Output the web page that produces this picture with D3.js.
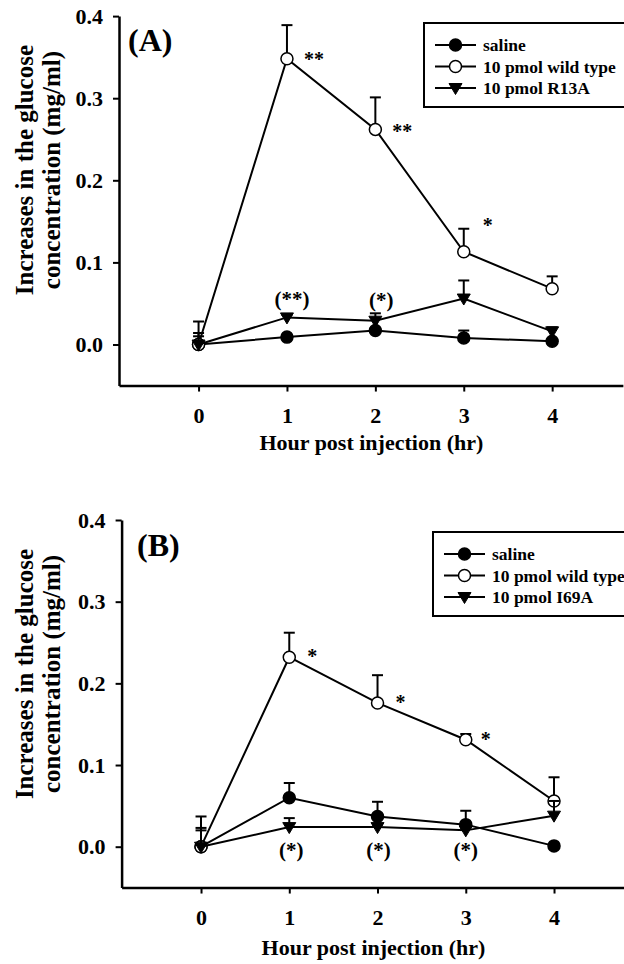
<!DOCTYPE html>
<html><head><meta charset="utf-8">
<script src="https://cdn.jsdelivr.net/npm/d3@7"></script>
<style>
html,body{margin:0;padding:0;background:#fff;}
svg{display:block;}
text{font-family:"Liberation Serif","Times New Roman",serif;font-weight:bold;fill:#000;}
</style></head>
<body>
<svg id="chart" width="624" height="964"></svg>
<script>
// ---------- data ----------
const hours = [0, 1, 2, 3, 4];
const xTicks = [0, 1, 2, 3, 4];
const yTicks = [0.0, 0.1, 0.2, 0.3, 0.4];

// Panel A
const salineA     = [0, 0.009, 0.017, 0.008, 0.004];
const salineAErr  = [0.010, 0.002, 0.003, 0.009, 0.003];
const wildA       = [0, 0.348, 0.262, 0.113, 0.068];
const wildAErr    = [0.028, 0.041, 0.039, 0.028, 0.015];
const r13A        = [0, 0.033, 0.029, 0.056, 0.016];
const r13AErr     = [0.014, 0.003, 0.009, 0.022, 0.005];
const legendA     = ["saline", "10 pmol wild type", "10 pmol R13A"];

// Panel B
const salineB     = [0, 0.060, 0.037, 0.027, 0.001];
const salineBErr  = [0.020, 0.018, 0.018, 0.017, 0.002];
const wildB       = [0, 0.232, 0.176, 0.131, 0.056];
const wildBErr    = [0.037, 0.030, 0.034, 0.007, 0.029];
const i69B        = [0, 0.024, 0.024, 0.020, 0.038];
const i69BErr     = [0.023, 0.011, 0.003, 0.003, 0.018];
const legendB     = ["saline", "10 pmol wild type", "10 pmol I69A"];

// significance marks: [hour, value it refers to, label]
const sigA = [[1, 0.348, "**"], [2, 0.262, "**"], [3, 0.113, "*"]];
const sigAParen = [[1, 0.033, "(**)"], [2, 0.029, "(*)"]];
const sigB = [[1, 0.232, "*"], [2, 0.176, "*"], [3, 0.131, "*"]];
const sigBParen = [[1, 0.024, "(*)"], [2, 0.024, "(*)"], [3, 0.020, "(*)"]];

const yTitle = ["Increases in the glucose", "concentration (mg/ml)"];
const xTitle = "Hour post injection (hr)";

// ---------- drawing ----------
const svg = d3.select("#chart");

function trianglePath(){ return "M-6.5,-4.5L6.5,-4.5L0,6.5Z"; }

function panel(cfg){
  const g = svg.append("g");
  const x = d3.scaleLinear().domain([-0.9, 4.8]).range([cfg.x0, cfg.x0 + 5.7 * cfg.xu]);
  const y = d3.scaleLinear().domain([-0.05, 0.4]).range([cfg.yZero + 0.05 * cfg.yu, cfg.yZero - 0.4 * cfg.yu]);

  // axes
  const ya = g.append("g").attr("transform", `translate(${cfg.x0},0)`)
    .call(d3.axisLeft(y).tickValues(yTicks).tickFormat(d3.format(".1f")).tickSize(6).tickSizeOuter(0).tickPadding(10));
  const xa = g.append("g").attr("transform", `translate(0,${y(-0.05)})`)
    .call(d3.axisBottom(x).tickValues(xTicks).tickFormat(d3.format("d")).tickSize(6).tickSizeOuter(0).tickPadding(16));
  [ya, xa].forEach(a => {
    a.select(".domain").attr("stroke", "#000").attr("stroke-width", 2.5);
    a.selectAll(".tick line").attr("stroke", "#000").attr("stroke-width", 2);
    a.selectAll(".tick text").attr("font-family", "Liberation Serif").attr("font-weight", "bold").attr("font-size", 22).attr("fill", "#000");
  });

  // y title
  const cy = y(0.4) + 154;
  yTitle.forEach((t, i) => {
    g.append("text").attr("transform", `translate(${33 + i * 27},${cy}) rotate(-90)`)
      .attr("text-anchor", "middle").attr("font-size", 25).text(t);
  });
  // x title
  g.append("text").attr("x", x(2) - 4).attr("y", cfg.xTitleY).attr("text-anchor", "middle")
    .attr("font-size", 22).text(xTitle);

  // panel label
  g.append("text").attr("x", cfg.labelX).attr("y", cfg.labelY).attr("font-size", 32).text(cfg.label);

  const line = d3.line().x((d, i) => x(hours[i])).y(d => y(d));

  cfg.series.forEach(s => {
    const sg = g.append("g");
    // error bars (upper)
    s.vals.forEach((v, i) => {
      const e = s.err[i];
      if (e <= 0) return;
      sg.append("line").attr("x1", x(hours[i])).attr("x2", x(hours[i])).attr("y1", y(v)).attr("y2", y(v + e))
        .attr("stroke", "#000").attr("stroke-width", 2);
      sg.append("line").attr("x1", x(hours[i]) - 5.5).attr("x2", x(hours[i]) + 5.5).attr("y1", y(v + e)).attr("y2", y(v + e))
        .attr("stroke", "#000").attr("stroke-width", 2);
    });
    sg.append("path").attr("d", line(s.vals)).attr("fill", "none").attr("stroke", "#000").attr("stroke-width", 2);
    s.vals.forEach((v, i) => drawMarker(sg, s.type, x(hours[i]), y(v)));
  });

  // significance
  cfg.sig.forEach(([h, v, t], i) => {
    const o = cfg.sigOff[i];
    g.append("text").attr("x", x(h) + o[0]).attr("y", y(v) + o[1]).attr("font-size", 20)
      .attr("font-weight", "normal").text(t);
  });
  cfg.sigParen.forEach(([h, v, t], i) => {
    const o = cfg.sigParenOff[i];
    g.append("text").attr("x", x(h) + o[0]).attr("y", y(v) + o[1]).attr("font-size", 21)
      .attr("text-anchor", "middle").text(t);
  });

  // legend
  const L = cfg.legend;
  g.append("rect").attr("x", L.x).attr("y", L.y).attr("width", L.w).attr("height", L.h)
    .attr("fill", "#fff").attr("stroke", "#000").attr("stroke-width", 2);
  L.labels.forEach((t, i) => {
    const ry = L.y + 22 + i * 21.5;
    g.append("line").attr("x1", L.x + 11).attr("x2", L.x + 52).attr("y1", ry).attr("y2", ry)
      .attr("stroke", "#000").attr("stroke-width", 2);
    drawMarker(g, cfg.series[i].type, L.x + 31.5, ry);
    g.append("text").attr("x", L.x + 59).attr("y", ry + 6).attr("font-size", 17.5).text(t);
  });
}

function drawMarker(g, type, cx, cy){
  if (type === "tri") {
    g.append("path").attr("d", trianglePath()).attr("transform", `translate(${cx},${cy})`)
      .attr("fill", "#000").attr("stroke", "#000").attr("stroke-width", 1);
  } else {
    g.append("circle").attr("cx", cx).attr("cy", cy).attr("r", 6)
      .attr("fill", type === "open" ? "#fff" : "#000").attr("stroke", "#000").attr("stroke-width", 1.5);
  }
}

panel({
  x0: 119, xu: 88.4, yZero: 344.5, yu: 821, xTitleY: 450,
  label: "(A)", labelX: 128, labelY: 51,
  series: [
    {vals: salineA, err: salineAErr, type: "filled"},
    {vals: wildA, err: wildAErr, type: "open"},
    {vals: r13A, err: r13AErr, type: "tri"}
  ],
  sig: sigA, sigOff: [[17, 7], [17, 9], [19, -20]],
  sigParen: sigAParen, sigParenOff: [[5, -11], [6, -14]],
  legend: {x: 424, y: 23, w: 210, h: 84, labels: legendA}
});

panel({
  x0: 121.6, xu: 88.25, yZero: 846.7, yu: 816.75, xTitleY: 955,
  label: "(B)", labelX: 137, labelY: 556,
  series: [
    {vals: salineB, err: salineBErr, type: "filled"},
    {vals: wildB, err: wildBErr, type: "open"},
    {vals: i69B, err: i69BErr, type: "tri"}
  ],
  sig: sigB, sigOff: [[18, 6], [18, 6], [15, 6]],
  sigParen: sigBParen, sigParenOff: [[2, 30], [1, 30], [0, 27]],
  legend: {x: 433, y: 532, w: 210, h: 84, labels: legendB}
});
</script>
</body></html>
